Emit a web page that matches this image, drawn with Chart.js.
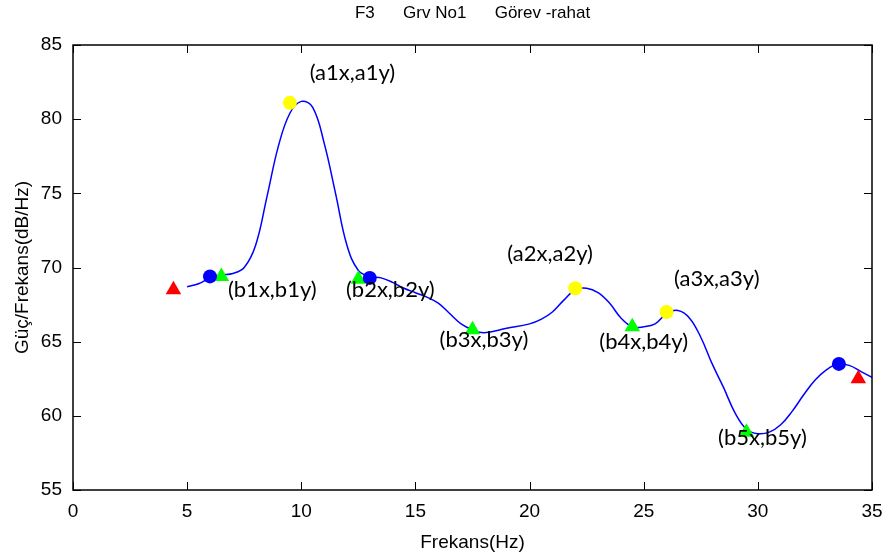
<!DOCTYPE html>
<html>
<head>
<meta charset="utf-8">
<script src="https://cdn.jsdelivr.net/npm/chart.js@4.4.1/dist/chart.umd.min.js"></script>
<style>
  body { margin: 0; background: #fff; }
  #wrap { width: 885px; height: 558px; }
</style>
</head>
<body>
<div id="wrap"><canvas id="psd"></canvas></div>
<script>
// spectrum curve
const freqs = [5.0, 5.5, 6.0, 6.5, 7.0, 7.5, 8.0, 8.5, 9.0, 9.5, 10.0, 10.5, 11.0, 11.5, 12.0, 12.5, 13.0, 13.5, 14.0, 14.5, 15.0, 15.5, 16.0, 16.5, 17.0, 17.5, 18.0, 19.0, 20.0, 20.5, 21.0, 21.5, 22.0, 22.5, 23.0, 23.5, 24.0, 24.5, 25.0, 25.5, 26.0, 26.5, 27.0, 27.5, 28.0, 28.5, 29.0, 29.5, 30.0, 30.5, 31.0, 31.5, 32.0, 32.5, 33.0, 33.5, 34.0, 34.5, 35.0];
const power = [68.7, 68.9, 69.3, 69.5, 69.6, 70.0, 71.5, 74.8, 78.2, 80.4, 81.2, 80.8, 78.4, 75.0, 71.5, 69.8, 69.4, 69.3, 69.0, 68.6, 68.3, 68.0, 67.6, 66.9, 66.2, 65.8, 65.6, 65.9, 66.2, 66.5, 67.0, 67.8, 68.5, 68.6, 68.3, 67.6, 66.6, 66.0, 66.0, 66.2, 66.9, 67.1, 66.6, 65.3, 63.5, 61.9, 60.2, 59.1, 58.8, 58.9, 59.4, 60.3, 61.4, 62.4, 63.1, 63.5, 63.4, 63.0, 62.6];

// markers
const peakX = [9.5, 22.0, 26.0];
const peakY = [81.1, 68.6, 67.0];
const blueX = [6.0, 13.0, 33.55];
const blueY = [69.4, 69.3, 63.5];
const valleyX = [6.5, 12.5, 17.5, 24.5, 29.5];
const valleyY = [69.4, 69.2, 65.8, 66.0, 58.9];
const edgeX = [4.4, 34.4];
const edgeY = [68.5, 62.5];

// annotation texts and where they sit (data units)
const noteText = ['(a1x,a1y)', '(b1x,b1y)', '(b2x,b2y)', '(a2x,a2y)', '(b3x,b3y)', '(b4x,b4y)', '(a3x,a3y)', '(b5x,b5y)'];
const noteX = [12.24, 8.73, 13.9, 20.9, 18.0, 25.0, 28.2, 30.2];
const noteY = [83.1, 68.5, 68.5, 70.9, 65.1, 65.0, 69.2, 58.5];

const xTicks = [0, 5, 10, 15, 20, 25, 30, 35];
const yTicks = [55, 60, 65, 70, 75, 80, 85];
const titleText = 'F3      Grv No1      Görev -rahat';

const pts = (xs, ys) => xs.map((x, i) => ({x: x, y: ys[i]}));

const axisFont = "'Liberation Sans Narrow', 'Liberation Sans', Arial, sans-serif";

// MATLAB style box with inward ticks, title and text notes
const boxPlugin = {
    id: 'boxPlugin',
    afterDatasetsDraw(chart) {
        const ctx = chart.ctx;
        const a = chart.chartArea;
        const xs = chart.scales.x, ys = chart.scales.y;
        ctx.save();
        ctx.strokeStyle = '#000';
        ctx.lineWidth = 1.5;
        ctx.strokeRect(a.left, a.top, a.right - a.left, a.bottom - a.top);
        ctx.lineWidth = 1;
        const tl = 8;
        xTicks.forEach(v => {
            const px = Math.round(xs.getPixelForValue(v)) + 0.5;
            ctx.beginPath();
            ctx.moveTo(px, a.bottom); ctx.lineTo(px, a.bottom - tl);
            ctx.moveTo(px, a.top); ctx.lineTo(px, a.top + tl);
            ctx.stroke();
        });
        yTicks.forEach(v => {
            const py = Math.round(ys.getPixelForValue(v)) + 0.5;
            ctx.beginPath();
            ctx.moveTo(a.left, py); ctx.lineTo(a.left + tl, py);
            ctx.moveTo(a.right, py); ctx.lineTo(a.right - tl, py);
            ctx.stroke();
        });
        ctx.fillStyle = '#000';
        ctx.textAlign = 'center';
        ctx.textBaseline = 'middle';
        ctx.font = '17px ' + axisFont;
        ctx.fillText(titleText, (a.left + a.right) / 2, 13);
        ctx.font = "22px Lato, 'Open Sans', sans-serif";
        noteText.forEach((t, i) => {
            ctx.fillText(t, xs.getPixelForValue(noteX[i]), ys.getPixelForValue(noteY[i]));
        });
        ctx.restore();
    }
};

new Chart(document.getElementById('psd'), {
    type: 'scatter',
    data: {
        datasets: [
            {
                label: 'psd',
                data: pts(freqs, power),
                showLine: true,
                borderColor: 'rgb(0, 0, 255)',
                borderWidth: 1.5,
                pointRadius: 0,
                tension: 0.4,
                order: 5
            },
            {
                label: 'peak',
                data: pts(peakX, peakY),
                pointStyle: 'circle',
                pointRadius: 7,
                backgroundColor: 'rgb(255, 255, 0)',
                borderColor: 'rgb(255, 255, 0)',
                borderWidth: 0
            },
            {
                label: 'blue',
                data: pts(blueX, blueY),
                pointStyle: 'circle',
                pointRadius: 7,
                backgroundColor: 'rgb(0, 0, 255)',
                borderColor: 'rgb(0, 0, 255)',
                borderWidth: 0
            },
            {
                label: 'valley',
                data: pts(valleyX, valleyY),
                pointStyle: 'triangle',
                pointRadius: 9,
                backgroundColor: 'rgb(0, 255, 0)',
                borderColor: 'rgb(0, 255, 0)',
                borderWidth: 0
            },
            {
                label: 'edge',
                data: pts(edgeX, edgeY),
                pointStyle: 'triangle',
                pointRadius: 9,
                backgroundColor: 'rgb(255, 0, 0)',
                borderColor: 'rgb(255, 0, 0)',
                borderWidth: 0
            }
        ]
    },
    options: {
        responsive: true,
        maintainAspectRatio: false,
        animation: false,
        layout: { padding: { left: 0, right: 13, top: 45, bottom: 0 } },
        plugins: {
            legend: { display: false },
            tooltip: { enabled: false },
            title: { display: false }
        },
        scales: {
            x: {
                type: 'linear',
                min: 0, max: 35,
                afterBuildTicks: s => { s.ticks = xTicks.map(v => ({value: v})); },
                afterFit: s => { s.height = 68; },
                grid: { display: false },
                border: { display: false },
                ticks: { color: '#000', font: { family: axisFont, size: 19 }, padding: 2, maxRotation: 0 },
                title: { display: true, text: 'Frekans(Hz)', color: '#000', font: { family: axisFont, size: 19 }, padding: { top: 0 } }
            },
            y: {
                type: 'linear',
                min: 55, max: 85,
                afterBuildTicks: s => { s.ticks = yTicks.map(v => ({value: v})); },
                afterFit: s => { s.width = 73; },
                grid: { display: false },
                border: { display: false },
                ticks: { color: '#000', font: { family: axisFont, size: 19 }, padding: 3 },
                title: { display: true, text: 'Güç/Frekans(dB/Hz)', color: '#000', font: { family: axisFont, size: 19 }, padding: { top: 11, bottom: 0 } }
            }
        }
    },
    plugins: [boxPlugin]
});
</script>
</body>
</html>
